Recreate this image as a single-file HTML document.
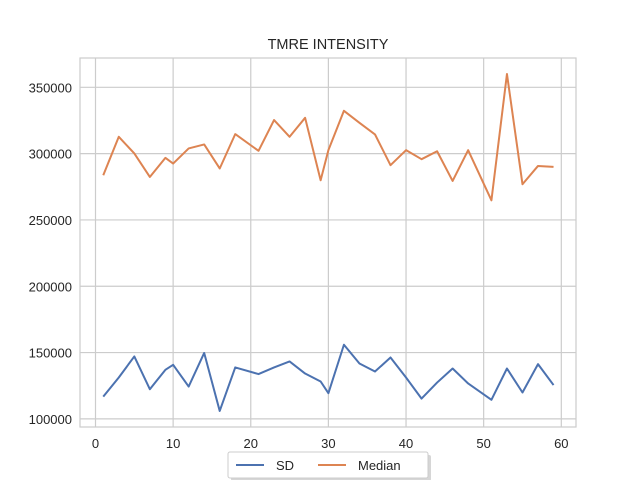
<!DOCTYPE html>
<html><head><meta charset="utf-8"><style>
html,body{margin:0;padding:0;background:#fff;}
svg text{font-family:"Liberation Sans","DejaVu Sans",sans-serif;}
</style></head><body>
<svg id="chart" width="640" height="480" xmlns="http://www.w3.org/2000/svg">
<rect width="640" height="480" fill="#fff"/>
<text x="328" y="49" text-anchor="middle" font-size="14.5" fill="#262626">TMRE INTENSITY</text>
<g id="grid"></g>
<rect x="80" y="58" width="496" height="369" fill="none" stroke="#cccccc" stroke-width="1.2"/>
<g id="ticks"></g>
<g id="series"></g>
<g>
<rect x="231" y="455" width="200" height="26" rx="2" fill="#bbb" opacity="0.6"/>
<rect x="228" y="452" width="200" height="26" rx="2" fill="#fff" stroke="#cccccc"/>
<line x1="236" y1="465" x2="264" y2="465" stroke="#4c72b0" stroke-width="2"/>
<text x="276" y="470" font-size="13" fill="#262626">SD</text>
<line x1="318" y1="465" x2="346" y2="465" stroke="#dd8452" stroke-width="2"/>
<text x="358" y="470" font-size="13" fill="#262626">Median</text>
</g>
</svg>
<script>
const xs=[1,3,5,7,9,10,12,14,16,18,21,23,25,27,29,30,32,34,36,38,40,42,44,46,48,51,53,55,57,59];
const sdValues=[116800,131200,147100,122400,137000,140800,124400,149700,106000,138800,133800,138800,143300,134200,128200,119400,155900,141800,135700,146300,131200,115300,127400,138000,126700,114400,138000,119900,141300,125500];
const medianValues=[283700,312700,300100,282400,296800,292500,303900,306900,288800,314700,302100,325300,312700,327000,279900,302600,332300,323200,314500,291300,302600,295800,301800,279400,302600,264800,360000,276900,290700,290000];
const xTicks=[0,10,20,30,40,50,60];
const yTicks=[100000,150000,200000,250000,300000,350000];
const NS="http://www.w3.org/2000/svg";
const xS=v=>95.5+v*(561.3-95.5)/60;
const yS=v=>418.9-(v-100000)*(418.9-87.3)/250000;
const grid=document.getElementById('grid'),ticks=document.getElementById('ticks'),series=document.getElementById('series');
function mk(tag,attrs,parent){const e=document.createElementNS(NS,tag);for(const k in attrs)e.setAttribute(k,attrs[k]);parent.appendChild(e);return e;}
xTicks.forEach(t=>{
  const l=mk('line',{x1:xS(t),x2:xS(t),y1:58,y2:427,stroke:'#cccccc','stroke-width':1.2},grid);
  
  
  const tx=mk('text',{x:xS(t),y:448,'text-anchor':'middle','font-size':13,fill:'#262626'},ticks);
  tx.textContent=t;
  
  
});
yTicks.forEach(t=>{
  const l=mk('line',{x1:80,x2:576,y1:yS(t),y2:yS(t),stroke:'#cccccc','stroke-width':1.2},grid);
  
  
  const tx=mk('text',{x:72,y:yS(t)+5,'text-anchor':'end','font-size':13,fill:'#262626'},ticks);
  tx.textContent=t;
  
  
});
function line(vals,color,name){
  const p=mk('polyline',{points:vals.map((v,i)=>xS(xs[i])+','+yS(v)).join(' '),fill:'none',stroke:color,'stroke-width':2,'stroke-linejoin':'round'},series);
  
  
}
line(sdValues,'#4c72b0','sd-line');
line(medianValues,'#dd8452','median-line');
</script>
</body></html>
